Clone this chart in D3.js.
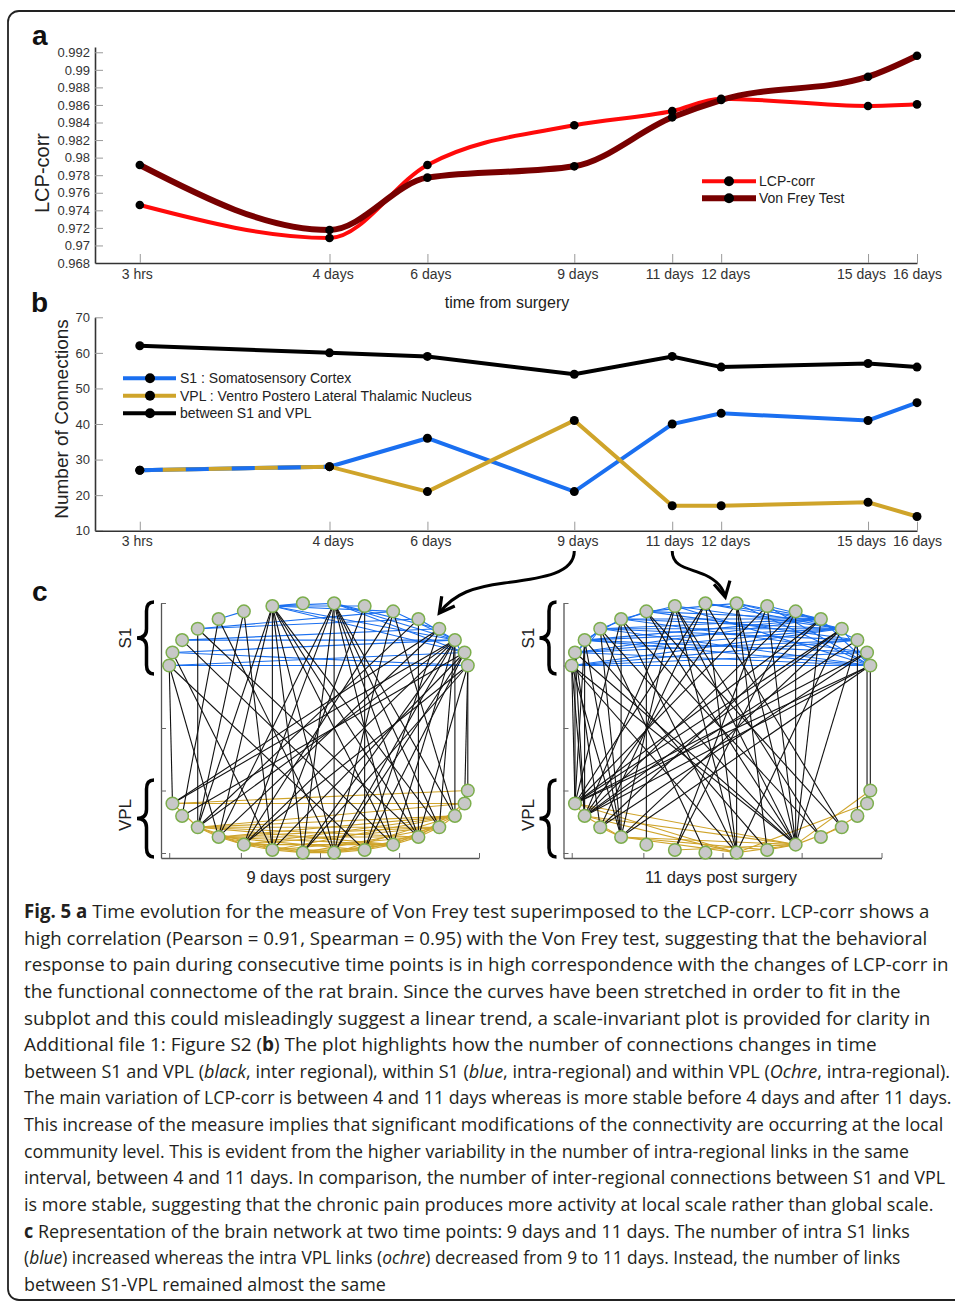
<!DOCTYPE html>
<html>
<head>
<meta charset="utf-8">
<script src="https://cdn.jsdelivr.net/npm/d3@7"></script>
<style>body{margin:0;background:#fff}</style>
</head>
<body>
<svg id="fig" width="955" height="1302"></svg>
<script>
// time points in days after surgery (3 hrs = 0.125 d)
const times = [0.125, 4, 6, 9, 11, 12, 15, 16];
const timeLabels = ["3 hrs", "4 days", "6 days", "9 days", "11 days", "12 days", "15 days", "16 days"];

// panel a
const lcpCorr = [0.9746, 0.97085, 0.97916, 0.98368, 0.98531, 0.98671, 0.98588, 0.98607];
const vonFrey = [0.97916, 0.97176, 0.97772, 0.97901, 0.98459, 0.98656, 0.98922, 0.99161];
const lcpTicks = [0.968, 0.97, 0.972, 0.974, 0.976, 0.978, 0.98, 0.982, 0.984, 0.986, 0.988, 0.99, 0.992];

// panel b
const s1Links = [27, 28, 36, 21, 40, 43, 41, 46];
const vplLinks = [27, 28, 21, 41, 17, 17, 18, 14];
const betweenLinks = [62, 60, 59, 54, 59, 56, 57, 56];
const connTicks = [10, 20, 30, 40, 50, 60, 70];

// panel c: circular layout angles (deg) of the nodes
const s1Angles = [180, 168, 156, 144, 132, 120, 108, 96, 84, 72, 60, 48, 36, 24, 12, 0];
const vplAngles = [168, 156, 144, 132, 120, 108, 96, 84, 72, 60, 48, 36, 24, 12, 0];
const netXTicks = [-1, -0.52, 0.01, 0.54, 1.075];
const netYTicks = [-1, 0, 1, 2, 3];

// 9 days: [S1 node, S1 node], [VPL, VPL], [S1, VPL]
const s1Edges9 = [[0,15],[0,14],[1,13],[1,15],[2,12],[2,13],[3,10],[3,11],[4,5],[6,7],[6,8],
  [6,9],[6,10],[6,13],[6,14],[8,13],[8,12],[8,14],[10,13],[11,13],[13,15]];
const vplEdges9 = [[0,14],[0,13],[0,2],[2,3],[2,4],[2,5],[2,9],[2,10],[2,11],[2,12],[2,13],
  [3,4],[3,6],[3,8],[3,9],[3,10],[3,11],[3,12],[4,5],[4,7],[4,9],[4,11],[4,12],[5,6],[5,8],
  [5,10],[5,12],[6,7],[6,9],[6,11],[7,8],[7,10],[7,12],[8,9],[8,11],[9,10],[9,12],[10,11],
  [10,13],[11,12],[12,13]];
const betweenEdges9 = [[0,0],[0,3],[0,8],[1,5],[2,9],[3,2],[3,10],[4,7],[4,1],[5,2],[5,5],
  [6,2],[6,3],[6,5],[6,6],[6,7],[6,9],[6,10],[6,11],[8,7],[8,3],[8,4],[8,6],[8,9],[8,10],
  [8,11],[8,12],[9,8],[9,5],[10,4],[10,12],[10,7],[11,10],[11,2],[12,0],[12,3],[12,8],
  [13,0],[13,2],[13,4],[13,6],[13,7],[13,9],[13,11],[13,12],[14,1],[14,5],[14,7],[14,8],
  [15,14],[15,4],[15,6],[15,10],[15,13]];

// 11 days
const s1Edges11 = [[0,15],[0,14],[0,13],[0,12],[0,3],[0,2],[1,15],[1,13],[1,12],[1,11],[1,3],
  [2,15],[2,14],[2,12],[2,11],[2,4],[3,15],[3,13],[3,12],[3,11],[3,5],[4,14],[4,12],[4,11],
  [4,6],[5,13],[5,11],[5,8],[6,12],[6,15],[7,11],[7,12],[8,11],[8,12],[8,15],[9,11],[9,15],
  [10,13],[11,15],[12,15]];
const vplEdges11 = [[0,1],[0,7],[0,9],[1,3],[1,7],[1,9],[2,3],[3,7],[3,9],[3,8],[5,9],[7,9],
  [8,9],[9,11],[7,13],[9,14],[10,12]];
const betweenEdges11 = [[0,0],[0,1],[0,3],[0,7],[0,9],[1,0],[1,1],[1,2],[1,9],[2,0],[2,3],
  [2,8],[2,1],[3,3],[3,9],[3,6],[4,3],[4,7],[4,10],[4,0],[5,4],[5,9],[5,11],[6,1],[6,3],
  [6,7],[6,9],[6,10],[7,0],[7,2],[7,7],[7,11],[8,7],[8,1],[8,9],[8,8],[9,0],[9,9],[9,5],
  [10,1],[10,5],[10,9],[11,0],[11,2],[11,9],[12,0],[12,1],[12,3],[12,7],[13,1],[13,9],
  [13,12],[14,0],[14,2],[14,13],[15,0],[15,1],[15,3],[15,14]];

const captionLines = [
  [["b", "Fig. 5 a"], ["n", " Time evolution for the measure of Von Frey test superimposed to the LCP-corr. LCP-corr shows a"]],
  [["n", "high correlation (Pearson = 0.91, Spearman = 0.95) with the Von Frey test, suggesting that the behavioral"]],
  [["n", "response to pain during consecutive time points is in high correspondence with the changes of LCP-corr in"]],
  [["n", "the functional connectome of the rat brain. Since the curves have been stretched in order to fit in the"]],
  [["n", "subplot and this could misleadingly suggest a linear trend, a scale-invariant plot is provided for clarity in"]],
  [["n", "Additional file 1: Figure S2 ("], ["b", "b"], ["n", ") The plot highlights how the number of connections changes in time"]],
  [["n", "between S1 and VPL ("], ["i", "black"], ["n", ", inter regional), within S1 ("], ["i", "blue"], ["n", ", intra-regional) and within VPL ("], ["i", "Ochre"], ["n", ", intra-regional)."]],
  [["n", "The main variation of LCP-corr is between 4 and 11 days whereas is more stable before 4 days and after 11 days."]],
  [["n", "This increase of the measure implies that significant modifications of the connectivity are occurring at the local"]],
  [["n", "community level. This is evident from the higher variability in the number of intra-regional links in the same"]],
  [["n", "interval, between 4 and 11 days. In comparison, the number of inter-regional connections between S1 and VPL"]],
  [["n", "is more stable, suggesting that the chronic pain produces more activity at local scale rather than global scale."]],
  [["b", "c"], ["n", " Representation of the brain network at two time points: 9 days and 11 days. The number of intra S1 links"]],
  [["n", "("], ["i", "blue"], ["n", ") increased whereas the intra VPL links ("], ["i", "ochre"], ["n", ") decreased from 9 to 11 days. Instead, the number of links"]],
  [["n", "between S1-VPL remained almost the same"]]
];

// ---- layout ----
const FONT = "'Liberation Sans', Arial, Helvetica, sans-serif";
const captionRight = [930, 928, 949, 901, 931, 877, 951, 952, 944, 910, 946, 934, 910, 901, 386];
const labelShift = [-3, 3, 3, 3, -3, 4, -7, 0];
const RED = "#ff0a0a", DARKRED = "#780000", BLUE = "#1a6ff0", OCHRE = "#cfa42a";

const svg = d3.select("#fig");
svg.append("rect").attr("width", 955).attr("height", 1302).attr("fill", "#fff");
svg.append("rect")
  .attr("x", 8).attr("y", 11).attr("width", 1000).attr("height", 1289).attr("rx", 11)
  .attr("fill", "none").attr("stroke", "#222").attr("stroke-width", 1.8);

function styleAxis(g, size) {
  g.attr("font-family", FONT).attr("font-size", size);
  g.select(".domain").attr("stroke", "#333").attr("stroke-width", 1.6);
  g.selectAll(".tick line").attr("stroke", "#999");
  g.selectAll(".tick text").attr("fill", "#333");
}

function timeAxis(y, pad) {
  svg.append("g")
    .attr("transform", `translate(0,${y})`)
    .call(d3.axisBottom(xA).tickValues(times).tickFormat((d, i) => timeLabels[i])
      .tickSizeInner(-9).tickSizeOuter(0).tickPadding(pad))
    .call(g => styleAxis(g, 14))
    .call(g => g.selectAll(".tick text").attr("x", (d, i) => labelShift[i]));
}

function panelLetter(txt, x, y) {
  svg.append("text").attr("x", x).attr("y", y).text(txt)
    .attr("font-family", FONT).attr("font-weight", "bold").attr("font-size", 28).attr("fill", "#111");
}

const xA = d3.scaleLinear().domain([-0.79, 16]).range([95, 917]);
const yA = d3.scaleLinear().domain([0.968, 0.9926]).range([263, 47]);
const yB = d3.scaleLinear().domain([10, 70]).range([530.7, 317.3]);

// ---------- panel a ----------
panelLetter("a", 32, 45);

svg.append("g")
  .attr("transform", "translate(95,0)")
  .call(d3.axisLeft(yA).tickValues(lcpTicks).tickFormat(d3.format("~g")).tickSizeInner(-8).tickSizeOuter(0).tickPadding(5))
  .call(g => styleAxis(g, 13));
timeAxis(263, 6);

svg.append("text")
  .attr("transform", "translate(49,173) rotate(-90)")
  .attr("text-anchor", "middle").attr("font-family", FONT).attr("font-size", 20).attr("fill", "#222")
  .text("LCP-corr");

const lineA = d3.line().x((d, i) => xA(times[i])).y(d => yA(d)).curve(d3.curveMonotoneX);

svg.append("path").datum(lcpCorr).attr("d", lineA)
  .attr("fill", "none").attr("stroke", RED).attr("stroke-width", 4);
svg.append("path").datum(vonFrey).attr("d", lineA)
  .attr("fill", "none").attr("stroke", DARKRED).attr("stroke-width", 6);

[lcpCorr, vonFrey].forEach(series => {
  svg.append("g").selectAll("circle").data(series).join("circle")
    .attr("cx", (d, i) => xA(times[i])).attr("cy", d => yA(d)).attr("r", 4.3).attr("fill", "#000");
});

const legA = svg.append("g").attr("font-family", FONT).attr("font-size", 14).attr("fill", "#222");
[["LCP-corr", RED, 4, 181.3], ["Von Frey Test", DARKRED, 6, 198.3]].forEach(([name, col, w, y]) => {
  legA.append("line").attr("x1", 702).attr("x2", 756).attr("y1", y).attr("y2", y)
    .attr("stroke", col).attr("stroke-width", w);
  legA.append("circle").attr("cx", 729).attr("cy", y).attr("r", 5).attr("fill", "#000");
  legA.append("text").attr("x", 759).attr("y", y).attr("dy", "0.35em").text(name);
});

svg.append("text")
  .attr("x", 507).attr("y", 308).attr("text-anchor", "middle")
  .attr("font-family", FONT).attr("font-size", 16).attr("fill", "#222")
  .text("time from surgery");

// ---------- panel b ----------
panelLetter("b", 31, 312);

svg.append("g")
  .attr("transform", "translate(95,0)")
  .call(d3.axisLeft(yB).tickValues(connTicks).tickSizeInner(-8).tickSizeOuter(0).tickPadding(5))
  .call(g => styleAxis(g, 13));
timeAxis(530.7, 5);

svg.append("text")
  .attr("transform", "translate(68,419) rotate(-90)")
  .attr("text-anchor", "middle").attr("font-family", FONT).attr("font-size", 19).attr("fill", "#222")
  .text("Number of Connections");

const lineB = d3.line().x((d, i) => xA(times[i])).y(d => yB(d));

svg.append("path").datum(betweenLinks).attr("d", lineB)
  .attr("fill", "none").attr("stroke", "#000").attr("stroke-width", 4);
svg.append("path").datum(s1Links).attr("d", lineB)
  .attr("fill", "none").attr("stroke", BLUE).attr("stroke-width", 4);
svg.append("path").datum(vplLinks).attr("d", lineB)
  .attr("fill", "none").attr("stroke", OCHRE).attr("stroke-width", 4);
// where S1 and VPL overlap, draw blue dashes over ochre
svg.append("path").datum(s1Links.slice(0, 2)).attr("d", lineB)
  .attr("fill", "none").attr("stroke", BLUE).attr("stroke-width", 4).attr("stroke-dasharray", "23,23");

[betweenLinks, s1Links, vplLinks].forEach(series => {
  svg.append("g").selectAll("circle").data(series).join("circle")
    .attr("cx", (d, i) => xA(times[i])).attr("cy", d => yB(d)).attr("r", 4.5).attr("fill", "#000");
});

const legB = svg.append("g").attr("font-family", FONT).attr("font-size", 14).attr("fill", "#222");
[["S1 : Somatosensory Cortex", BLUE, 378.3],
 ["VPL : Ventro Postero Lateral Thalamic Nucleus", OCHRE, 395.7],
 ["between S1 and VPL", "#000", 413.3]].forEach(([name, col, y]) => {
  legB.append("line").attr("x1", 123).attr("x2", 176).attr("y1", y).attr("y2", y)
    .attr("stroke", col).attr("stroke-width", 4);
  legB.append("circle").attr("cx", 150).attr("cy", y).attr("r", 5).attr("fill", "#000");
  legB.append("text").attr("x", 180).attr("y", y).attr("dy", "0.35em").text(name);
});

// ---------- panel c ----------
panelLetter("c", 32, 601);

const rad = a => a * Math.PI / 180;
const s1Nodes = s1Angles.map(a => ({ x: Math.cos(rad(a)), y: 2 + Math.sin(rad(a)) }));
const vplNodes = vplAngles.map(a => ({ x: Math.cos(rad(a)), y: -Math.sin(rad(a)) }));

function brace(g, xEnd, xTip, y0, y1) {
  const xm = (xEnd + xTip) / 2 + 1, ym = (y0 + y1) / 2;
  const p = d3.path();
  p.moveTo(xEnd, y0);
  p.quadraticCurveTo(xm, y0, xm, y0 + 9);
  p.lineTo(xm, ym - 9);
  p.quadraticCurveTo(xm, ym, xTip, ym);
  p.quadraticCurveTo(xm, ym, xm, ym + 9);
  p.lineTo(xm, y1 - 9);
  p.quadraticCurveTo(xm, y1, xEnd, y1);
  g.append("path").attr("d", p.toString()).attr("fill", "none")
    .attr("stroke", "#000").attr("stroke-width", 3.5);
}

function drawNetwork(left, title, s1E, vplE, betE) {
  const nx = d3.scaleLinear().domain([-1.055, 1.075]).range([left, left + 318]);
  const ny = d3.scaleLinear().domain([-1.08, 3]).range([858, 603]);
  const g = svg.append("g");

  g.append("g").attr("transform", `translate(${left},0)`)
    .call(d3.axisLeft(ny).tickValues(netYTicks).tickFormat("").tickSizeInner(-5).tickSizeOuter(0))
    .call(a => { a.select(".domain").attr("stroke", "#555").attr("stroke-width", 1.3); a.selectAll(".tick line").attr("stroke", "#666"); });
  g.append("g").attr("transform", "translate(0,858)")
    .call(d3.axisBottom(nx).tickValues(netXTicks).tickFormat("").tickSizeInner(-5).tickSizeOuter(0))
    .call(a => { a.select(".domain").attr("stroke", "#555").attr("stroke-width", 1.3); a.selectAll(".tick line").attr("stroke", "#666"); });

  const edgeLayer = (edges, A, B, col, w) => {
    g.append("g").selectAll("line").data(edges).join("line")
      .attr("x1", d => nx(A[d[0]].x)).attr("y1", d => ny(A[d[0]].y))
      .attr("x2", d => nx(B[d[1]].x)).attr("y2", d => ny(B[d[1]].y))
      .attr("stroke", col).attr("stroke-width", w);
  };
  edgeLayer(s1E, s1Nodes, s1Nodes, BLUE, 1.1);
  edgeLayer(vplE, vplNodes, vplNodes, OCHRE, 1.1);
  edgeLayer(betE, s1Nodes, vplNodes, "#111", 1.1);

  g.append("g").selectAll("circle").data(s1Nodes.concat(vplNodes)).join("circle")
    .attr("cx", d => nx(d.x)).attr("cy", d => ny(d.y)).attr("r", 6.3)
    .attr("fill", "#c8c8c8").attr("stroke", "#7cae4c").attr("stroke-width", 1.5);

  brace(g, left - 7, left - 24, 602, 674);
  brace(g, left - 7, left - 24, 780, 857);
  const lab = (t, y) => g.append("text")
    .attr("transform", `translate(${left - 30},${y}) rotate(-90)`)
    .attr("text-anchor", "middle").attr("font-family", FONT).attr("font-size", 17).attr("fill", "#222").text(t);
  lab("S1", 638);
  lab("VPL", 815);

  g.append("text").attr("x", nx(0)).attr("y", 883).attr("text-anchor", "middle")
    .attr("font-family", FONT).attr("font-size", 16.5).attr("fill", "#222").text(title);
}

drawNetwork(161, "9 days post surgery", s1Edges9, vplEdges9, betweenEdges9);
drawNetwork(563.5, "11 days post surgery", s1Edges11, vplEdges11, betweenEdges11);

// arrows from time points to the networks
function arrow(d, tip, from) {
  svg.append("path").attr("d", d).attr("fill", "none").attr("stroke", "#000").attr("stroke-width", 3);
  const ang = Math.atan2(tip[1] - from[1], tip[0] - from[0]);
  const L = 17, sp = 0.5;
  const p = d3.path();
  p.moveTo(tip[0] - L * Math.cos(ang - sp), tip[1] - L * Math.sin(ang - sp));
  p.lineTo(tip[0], tip[1]);
  p.lineTo(tip[0] - L * Math.cos(ang + sp), tip[1] - L * Math.sin(ang + sp));
  svg.append("path").attr("d", p.toString()).attr("fill", "none").attr("stroke", "#000")
    .attr("stroke-width", 3.2).attr("stroke-linejoin", "miter");
}
const ax9 = xA(9), ax11 = xA(11);
arrow(`M${ax9},551 C${ax9},573 ${ax9 - 30},578 ${ax9 - 70},583 C${ax9 - 100},587 ${ax9 - 120},593 ${ax9 - 135},613`,
  [ax9 - 135, 613], [ax9 - 120, 593]);
arrow(`M${ax11},551 C${ax11},568 ${ax11 + 18},568 ${ax11 + 33},575 C${ax11 + 46},581 ${ax11 + 51},588 ${ax11 + 53},597`,
  [ax11 + 53, 597], [ax11 + 51, 588]);

// ---------- caption ----------
// each line is squeezed horizontally to the width it has in the figure
const cap = svg.append("g").attr("font-family", "'Open Sans', 'Noto Sans', sans-serif")
  .attr("font-size", 19).attr("fill", "#231f20").style("white-space", "pre");
captionLines.forEach((segs, i) => {
  const t = cap.append("text").attr("x", 0).attr("y", 0);
  segs.forEach(([style, str]) => {
    t.append("tspan").text(str)
      .attr("font-weight", style === "b" ? "bold" : null)
      .attr("font-style", style === "i" ? "italic" : null);
  });
  const w = t.node().getComputedTextLength();
  const k = (captionRight[i] - 24) / w;
  t.attr("transform", `translate(24,${918 + i * 26.64}) scale(${k},1)`);
});
</script>
</body>
</html>
